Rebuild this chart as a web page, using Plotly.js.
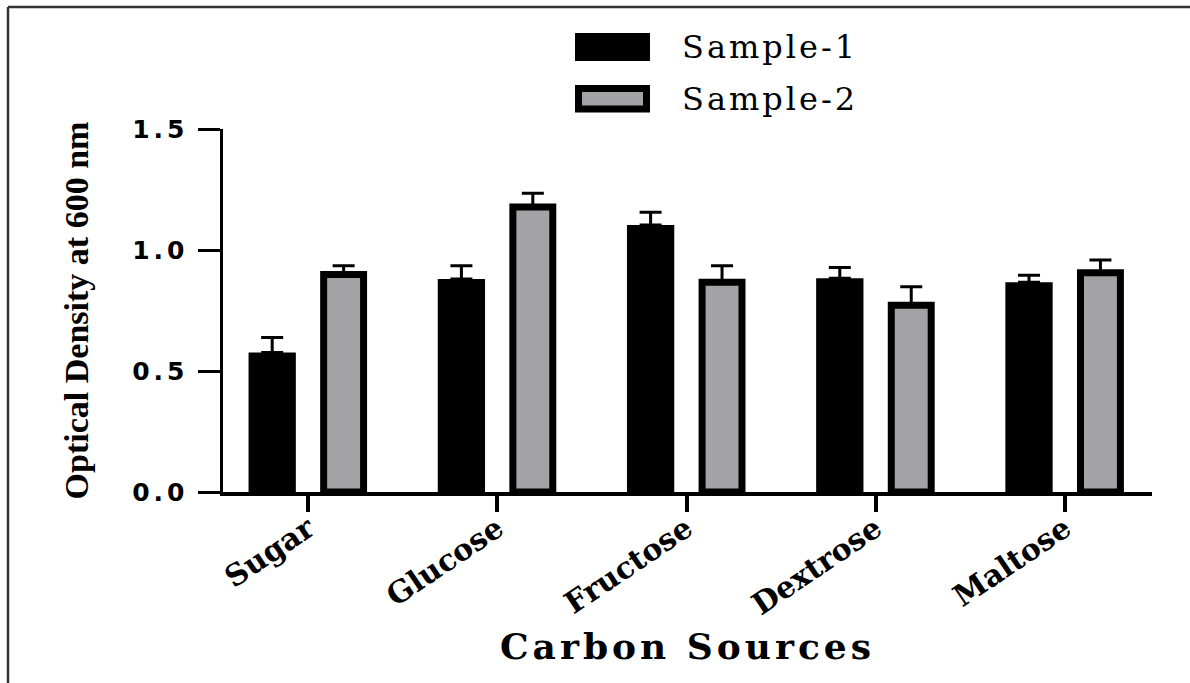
<!DOCTYPE html>
<html>
<head>
<meta charset="utf-8">
<script src="https://cdn.plot.ly/plotly-3.0.1.min.js"></script>
<style>
  html, body { margin: 0; padding: 0; background: #ffffff; }
  #chart { width: 1190px; height: 683px; }
  #chart .xtitle { letter-spacing: 4px; }
  #chart .ytick text { letter-spacing: 4px; }
  #chart .annotation-text { letter-spacing: 3px; }
</style>
</head>
<body>
<div id="chart"></div>
<script>
// ---- data ----
const categories = ["Sugar", "Glucose", "Fructose", "Dextrose", "Maltose"];
const sample1 = [0.576, 0.880, 1.103, 0.883, 0.867];
const sample1Err = [0.062, 0.055, 0.053, 0.045, 0.029];
const sample2 = [0.899, 1.178, 0.867, 0.772, 0.906];
const sample2Err = [0.036, 0.056, 0.068, 0.076, 0.053];
const seriesNames = ["Sample-1", "Sample-2"];
const yTickVals = [0, 0.5, 1.0, 1.5];
const yTickText = ["0.0", "0.5", "1.0", "1.5"];

// ---- layout constants ----
const W = 1190, H = 683;
const M = { l: 223, r: 38, t: 129, b: 191 };
const plotW = W - M.l - M.r, plotH = H - M.t - M.b;
const px = x => (x - M.l) / plotW;          // pixel -> paper x
const py = y => (H - M.b - y) / plotH;      // pixel -> paper y
const grayFill = "#a3a2a7";

const zeros = categories.map(() => 0);

const trace1 = {
  type: "bar", name: seriesNames[0], x: categories, y: sample1,
  width: 0.25, offset: -0.315,
  marker: { color: "#000000", line: { width: 0 } },
  error_y: { type: "data", symmetric: false, array: sample1Err, arrayminus: zeros,
             color: "#000000", thickness: 3, width: 11 },
  showlegend: false
};
const trace2 = {
  type: "bar", name: seriesNames[1], x: categories, y: sample2,
  width: 0.211, offset: 0.082,
  marker: { color: grayFill, line: { width: 7, color: "#000000" } },
  error_y: { type: "data", symmetric: false, array: sample2Err, arrayminus: zeros,
             color: "#000000", thickness: 3, width: 11 },
  showlegend: false
};

const layout = {
  width: W, height: H,
  margin: M,
  paper_bgcolor: "#ffffff", plot_bgcolor: "#ffffff",
  barmode: "overlay",
  showlegend: false,
  xaxis: {
    type: "category", range: [-0.45, 4.46],
    showline: true, linecolor: "#000000", linewidth: 3.5,
    ticks: "outside", ticklen: 16, tickwidth: 4, tickcolor: "#000000",
    tickangle: -34,
    ticklabelstandoff: -12,
    tickfont: { family: "DejaVu Serif", size: 30, color: "#000000", weight: "bold" },
    showgrid: false, zeroline: false,
    title: { text: "Carbon Sources", standoff: 14,
             font: { family: "DejaVu Serif", size: 36, color: "#000000", weight: "bold" } }
  },
  yaxis: {
    range: [0, 1.5], tickvals: yTickVals, ticktext: yTickText,
    showline: true, linecolor: "#000000", linewidth: 3.5,
    ticks: "outside", ticklen: 22, tickwidth: 3, tickcolor: "#000000",
    ticklabelstandoff: 4,
    tickfont: { family: "DejaVu Sans", size: 25, color: "#000000", weight: "bold" },
    showgrid: false, zeroline: false,
    title: { text: "Optical Density at 600 nm", standoff: 46,
             font: { family: "Liberation Serif", size: 34, color: "#000000", weight: "bold" } }
  },
  shapes: [
    // figure frame (top and left edges)
    { type: "line", xref: "paper", yref: "paper", x0: px(8), x1: px(1195), y0: py(7), y1: py(7),
      line: { color: "#333333", width: 2.5 } },
    { type: "line", xref: "paper", yref: "paper", x0: px(8), x1: px(8), y0: py(7), y1: py(690),
      line: { color: "#333333", width: 2.5 } },
    // legend swatches
    { type: "rect", xref: "paper", yref: "paper", x0: px(575), x1: px(650), y0: py(33), y1: py(61),
      fillcolor: "#000000", line: { width: 0 } },
    { type: "rect", xref: "paper", yref: "paper", x0: px(578.5), x1: px(646.5), y0: py(88.5), y1: py(109),
      fillcolor: grayFill, line: { color: "#000000", width: 7 } }
  ],
  annotations: [
    { xref: "paper", yref: "paper", x: px(692), y: py(47), xanchor: "left", yanchor: "middle",
      text: seriesNames[0], showarrow: false,
      font: { family: "DejaVu Serif", size: 32, color: "#000000" } },
    { xref: "paper", yref: "paper", x: px(692), y: py(99), xanchor: "left", yanchor: "middle",
      text: seriesNames[1], showarrow: false,
      font: { family: "DejaVu Serif", size: 32, color: "#000000" } }
  ]
};

Plotly.newPlot("chart", [trace1, trace2], layout, { displayModeBar: false, staticPlot: true });
</script>
</body>
</html>
